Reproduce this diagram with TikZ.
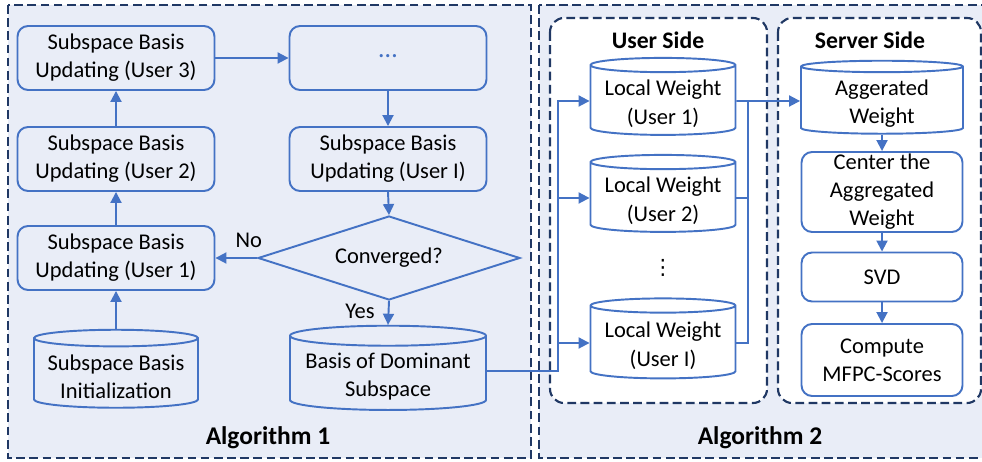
\documentclass[tikz,border=0pt]{standalone}
\usepackage{fontspec}
\setmainfont{Carlito}
\newfontfamily\symfont{DejaVu Sans}
\usepackage{tikz}
\usetikzlibrary{shapes.geometric, arrows.meta, positioning, calc}
\definecolor{linecolor}{RGB}{68,114,196}
\definecolor{framecolor}{RGB}{32,56,100}
\definecolor{panelcolor}{RGB}{233,237,247}

\begin{document}
\begin{tikzpicture}[
    x=0.02cm, y=-0.02cm,
    font=\fontsize{12.8}{16}\selectfont,
    box/.style={draw=linecolor, line width=1.1pt, rounded corners=6pt, minimum width=3.94cm, minimum height=1.28cm, align=center, inner sep=1pt},
    store/.style={draw=linecolor, line width=1.1pt, cylinder, shape border rotate=90, aspect=0.12, align=center, inner sep=0.5pt, text height=28pt},
    check/.style={draw=linecolor, line width=1.1pt, diamond, aspect=3.1, minimum width=5.24cm, minimum height=1.68cm, inner sep=0pt},
    frame/.style={draw=framecolor, line width=1.2pt, dash pattern=on 5pt off 2.5pt},
    arrow/.style={-{Triangle[length=2.2mm, width=2.2mm]}, draw=linecolor, line width=1.1pt},
    link/.style={draw=linecolor, line width=1.1pt},
    title/.style={font=\fontsize{14.5}{17}\selectfont\bfseries}
]
    \clip (0,0) rectangle (982,462);

    % Frames
    \draw[frame, fill=panelcolor] (8,5) rectangle (531,458);
    \draw[frame, fill=panelcolor] (539,5) rectangle (990,458);
    \draw[frame, fill=white, rounded corners=8pt] (550,18) rectangle (767,403);
    \draw[frame, fill=white, rounded corners=8pt] (778,18) rectangle (981,403);

    \node[title] (alg1) at (268,438) {Algorithm 1};
    \node[title] (alg2) at (760,438) {Algorithm 2};
    \node[title, font=\fontsize{13.5}{16}\selectfont\bfseries] (userside) at (658,40) {User Side};
    \node[title, font=\fontsize{13.5}{16}\selectfont\bfseries] (serverside) at (870,40) {Server Side};

    % Algorithm 1
    \node[store, minimum width=3.28cm, minimum height=1.56cm] (init) at (116,374) {Subspace Basis\\Initialization};
    \node[box] (u1) at (116,258) {Subspace Basis\\Updating (User 1)};
    \node[box] (u2) at (116,159) {Subspace Basis\\Updating (User 2)};
    \node[box] (u3) at (116,58) {Subspace Basis\\Updating (User 3)};
    \node[box, text=linecolor, font=\fontsize{15}{16}\selectfont] (dots) at (388,58) {\raisebox{2pt}{\dots}};
    \node[box] (uI) at (388,159) {Subspace Basis\\Updating (User I)};
    \node[check] (conv) at (389,258) {Converged?};
    \node[store, minimum width=3.92cm, minimum height=1.56cm] (basis) at (388,374) {Basis of Dominant\\Subspace};

    \draw[arrow] (init) -- (u1);
    \draw[arrow] (u1) -- (u2);
    \draw[arrow] (u2) -- (u3);
    \draw[arrow] (u3) -- (dots);
    \draw[arrow] (dots) -- (uI);
    \draw[arrow] (uI.south) -- (conv.north);
    \draw[arrow] (conv.west) -- node[above=2pt, pos=0.2] (no) {No} (u1.east);
    \draw[arrow] (conv.south) -- node[left=4pt, pos=0.45] (yes) {Yes} (basis.north);

    % Algorithm 2, user side
    \node[store, minimum width=2.9cm, minimum height=1.54cm] (lw1) at (663,101) {Local Weight\\(User 1)};
    \node[store, minimum width=2.9cm, minimum height=1.54cm] (lw2) at (663,198) {Local Weight\\(User 2)};
    \node[font=\symfont\fontsize{12}{14}\selectfont] (vdots) at (663,268) {⋮};
    \node[store, minimum width=2.9cm, minimum height=1.6cm] (lwI) at (663,343) {Local Weight\\(User I)};

    % Algorithm 2, server side
    \node[store, minimum width=3.24cm, minimum height=1.46cm] (agg) at (882,101) {Aggerated\\Weight};
    \node[box, minimum width=3.22cm, minimum height=1.6cm] (center) at (882,192) {Center the\\Aggregated\\Weight};
    \node[box, minimum width=3.22cm, minimum height=0.98cm] (svd) at (882,277) {SVD};
    \node[box, minimum width=3.22cm, minimum height=1.44cm] (mfpc) at (882,360) {Compute\\MFPC-Scores};

    \coordinate (busin) at (558,371);
    \coordinate (busout) at (748,101);

    \draw[arrow] (basis.east |- busin) -- (busin) |- (lw1.west);
    \draw[arrow] (busin |- lw2.west) -- (lw2.west);
    \draw[arrow] (busin |- lwI.west) -- (lwI.west);
    \draw[arrow] (lw1.east) -- (agg.west);
    \draw[link] (lw2.east) -| (busout);
    \draw[link] (lwI.east) -| (busout);

    \draw[arrow] (agg) -- (center);
    \draw[arrow] (center) -- (svd);
    \draw[arrow] (svd) -- (mfpc);
\end{tikzpicture}
\end{document}
